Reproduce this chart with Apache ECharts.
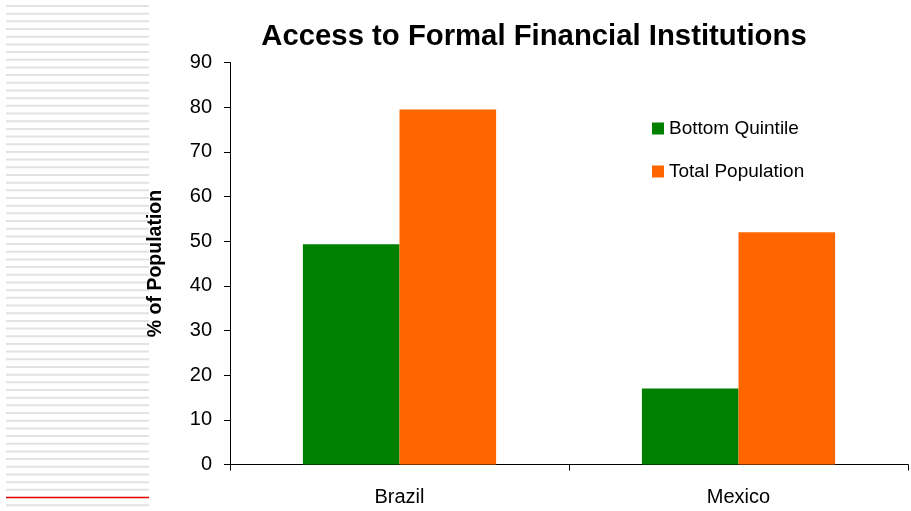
<!DOCTYPE html>
<html>
<head>
<meta charset="utf-8">
<script src="https://cdn.jsdelivr.net/npm/echarts@6/dist/echarts.min.js"></script>
<style>
  html, body { margin: 0; padding: 0; background: #fff; }
  #chart { width: 911px; height: 511px; }
</style>
</head>
<body>
<div id="chart"></div>
<script>
// data
const countries = ['Brazil', 'Mexico']
const bottomQuintile = [49.3, 17]
const totalPopulation = [79.5, 52]

const FONT = '"Liberation Sans", Arial, sans-serif'

// decorative stripes on the left edge
const stripes = []
for (let i = 0; i < 66; i++) {
  const y = 6 + i * 7.68
  stripes.push({
    type: 'line',
    shape: { x1: 6, y1: y, x2: 149, y2: y },
    style: { stroke: i === 64 ? '#e00000' : '#e2e2e2', lineWidth: i === 64 ? 1.5 : 2 },
    silent: true,
  })
}

const chart = echarts.init(document.getElementById('chart'))
chart.setOption({
  animation: false,
  title: {
    text: 'Access to Formal Financial Institutions',
    left: 529,
    textAlign: 'center',
    top: 17,
    textStyle: { fontFamily: FONT, fontSize: 29.3, fontWeight: 'bold', color: '#000' },
  },
  legend: {
    orient: 'vertical',
    left: 647,
    top: 114,
    itemWidth: 12,
    itemHeight: 12,
    itemGap: 24,
    icon: 'rect',
    textStyle: { fontFamily: FONT, fontSize: 19, color: '#000' },
  },
  graphic: stripes,
  grid: { left: 230, right: 3, top: 62.5, bottom: 46.5 },
  xAxis: {
    type: 'category',
    data: countries,
    axisLine: { lineStyle: { color: '#000', width: 1 } },
    axisTick: { show: true, length: 6, lineStyle: { color: '#000' } },
    axisLabel: { fontFamily: FONT, fontSize: 20, color: '#000', margin: 23 },
  },
  yAxis: {
    type: 'value',
    min: 0,
    max: 90,
    interval: 10,
    name: '% of Population',
    nameLocation: 'middle',
    nameGap: 64,
    nameTextStyle: { fontFamily: FONT, fontSize: 19.5, fontWeight: 'bold', color: '#000' },
    axisLine: { show: true, lineStyle: { color: '#000', width: 1 } },
    axisTick: { show: true, length: 6, lineStyle: { color: '#000' } },
    splitLine: { show: false },
    axisLabel: { fontFamily: FONT, fontSize: 20, color: '#000', margin: 18 },
  },
  series: [
    {
      name: 'Bottom Quintile',
      type: 'bar',
      data: bottomQuintile,
      barGap: 0,
      barCategoryGap: '43%',
      itemStyle: { color: '#008000' },
    },
    {
      name: 'Total Population',
      type: 'bar',
      data: totalPopulation,
      itemStyle: { color: '#ff6600' },
    },
  ],
})
</script>
</body>
</html>
